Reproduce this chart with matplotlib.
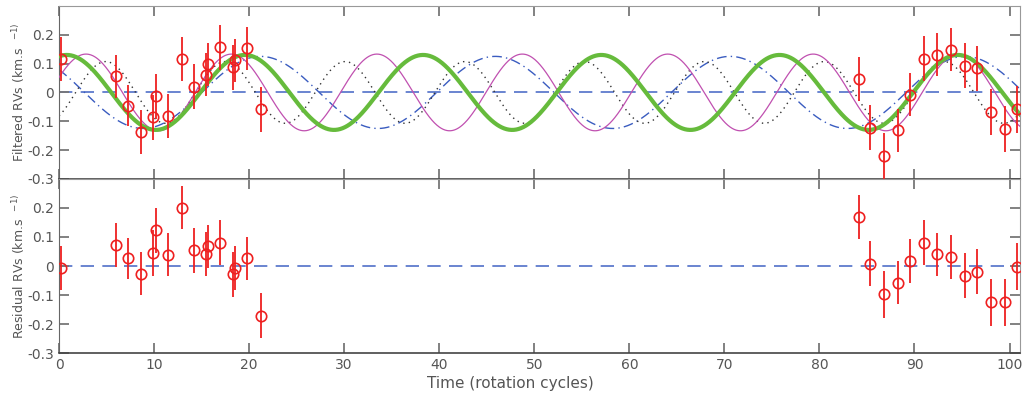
import numpy as np
import matplotlib
matplotlib.use('Agg')
import matplotlib.pyplot as plt

# observation times (rotation cycles)
t_obs = [0.2, 6.0, 7.26, 8.6, 9.92, 10.2, 11.43, 12.9, 14.25, 15.49, 15.67,
         16.9, 18.3, 18.47, 19.77, 21.24,
         84.2, 85.35, 86.75, 88.3, 89.55, 91.0, 92.4, 93.8, 95.3, 96.6,
         98.1, 99.55, 100.8]

# filtered RVs (km/s)
rv_filt = [0.116, 0.056, -0.046, -0.137, -0.086, -0.013, -0.082, 0.116, 0.019,
           0.062, 0.098, 0.157, 0.088, 0.111, 0.153, -0.059,
           0.047, -0.122, -0.220, -0.132, -0.008, 0.116, 0.131, 0.148, 0.092,
           0.084, -0.068, -0.127, -0.059]

# residual RVs (km/s)
rv_res = [-0.006, 0.072, 0.026, -0.026, 0.045, 0.123, 0.039, 0.201, 0.054,
          0.042, 0.068, 0.081, -0.029, -0.007, 0.026, -0.171,
          0.169, 0.008, -0.098, -0.057, 0.017, 0.081, 0.040, 0.031, -0.033,
          -0.020, -0.125, -0.125, -0.002]

# error bars (km/s)
rv_err = [0.075, 0.075, 0.072, 0.075, 0.078, 0.078, 0.075, 0.075, 0.078,
          0.075, 0.075, 0.078, 0.078, 0.075, 0.075, 0.078,
          0.075, 0.078, 0.08, 0.075, 0.075, 0.078, 0.075, 0.075, 0.078,
          0.078, 0.08, 0.08, 0.08]

# fitted sinusoids: (amplitude km/s, period cycles, time of maximum)
fit_green = (0.130, 18.75, 0.8)
fit_magenta = (0.133, 15.3, 2.84)
fit_dotted = (0.107, 12.6, 4.9)
fit_dashdot = (0.125, 24.7, 21.2)

xticks = [0, 10, 20, 30, 40, 50, 60, 70, 80, 90, 100]
yticks = [-0.3, -0.2, -0.1, 0, 0.1, 0.2]
yticklabels = ['-0.3', '-0.2', '-0.1', '0', '0.1', '0.2']


def sinusoid(t, amp, period, tmax):
    """cosine model with given amplitude, period and time of maximum"""
    return amp * np.cos(2 * np.pi * (t - tmax) / period)


txt_col = '#555555'
tick_col = '#777777'
zero_col = '#5070c8'
red = '#ee2020'

fig = plt.figure(figsize=(10.25, 3.95), dpi=100)
ax1 = fig.add_axes([0.0576, 0.547, 0.9375, 0.438])
ax2 = fig.add_axes([0.0576, 0.106, 0.9375, 0.441], sharex=ax1)

tt = np.linspace(0, 101.1, 2000)

# top panel: filtered RVs and models
ax1.plot([0, 101.1], [0, 0], color=zero_col, lw=1.2, ls=(0, (8, 5)), zorder=1)
ax1.plot(tt, sinusoid(tt, *fit_dashdot), color='#3a5cc0', lw=1.0,
         ls=(0, (7, 3, 1, 3)), zorder=2)
ax1.plot(tt, sinusoid(tt, *fit_dotted), color='#333333', lw=1.0,
         ls=(0, (1, 3)), zorder=2)
ax1.plot(tt, sinusoid(tt, *fit_magenta), color='#c050b0', lw=0.9, zorder=3)
ax1.plot(tt, sinusoid(tt, *fit_green), color='#66bb3c', lw=3.0, zorder=4)
ax1.errorbar(t_obs, rv_filt, yerr=rv_err, fmt='o', ms=7.5, mfc='none',
             mec=red, mew=1.2, ecolor=red, elinewidth=1.3,
             capsize=0, zorder=5)

# bottom panel: residuals
ax2.plot([0, 101.1], [0, 0], color=zero_col, lw=1.2, ls=(0, (8, 5)), zorder=1)
ax2.errorbar(t_obs, rv_res, yerr=rv_err, fmt='o', ms=7.5, mfc='none',
             mec=red, mew=1.2, ecolor=red, elinewidth=1.3,
             capsize=0, zorder=5)

for ax in (ax1, ax2):
    ax.set_xlim(0, 101.1)
    ax.set_ylim(-0.3, 0.3)
    ax.set_xticks(xticks)
    ax.set_yticks(yticks)
    ax.set_yticklabels(yticklabels)
    ax.tick_params(direction='in', length=7.5, width=1.3, color=tick_col,
                   labelcolor=txt_col, labelsize=10, top=True, right=True)
    for side in ('right', 'top'):
        ax.spines[side].set_color('#999999')
    ax.spines['left'].set_color('#666666')
    ax.spines['bottom'].set_color('#444444')
    ax.spines['bottom'].set_linewidth(1.2)

ax1.tick_params(labelbottom=False)
ax1.set_ylabel('Filtered RVs (km.s  $^{-1)}$', color=txt_col, fontsize=9)
ax2.set_ylabel('Residual RVs (km.s  $^{-1)}$', color=txt_col, fontsize=9)
ax2.set_xlabel('Time (rotation cycles)', color=txt_col, fontsize=11)
ax1.yaxis.set_label_coords(-0.033, 0.5)
ax2.yaxis.set_label_coords(-0.033, 0.5)
ax2.xaxis.set_label_coords(0.47, -0.13)

fig.savefig('out.png', dpi=100)
